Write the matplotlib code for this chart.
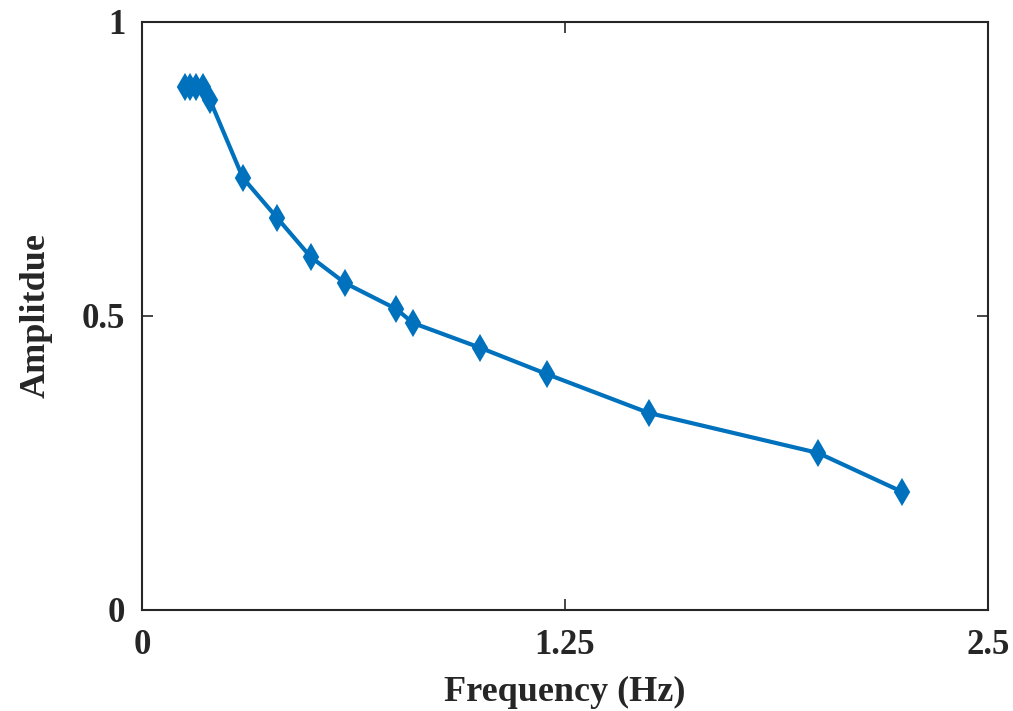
import matplotlib
matplotlib.use('Agg')
import matplotlib.pyplot as plt

# Values
frequency = [0.127, 0.142, 0.160, 0.180, 0.201, 0.298, 0.399, 0.499, 0.600,
             0.751, 0.801, 0.999, 1.197, 1.498, 1.998, 2.246]
amplitude = [0.889, 0.889, 0.889, 0.889, 0.867, 0.735, 0.667, 0.600, 0.556,
             0.512, 0.488, 0.446, 0.401, 0.335, 0.267, 0.201]
x_ticks = [0, 1.25, 2.5]
x_tick_labels = ['0', '1.25', '2.5']
y_ticks = [0, 0.5, 1]
y_tick_labels = ['0', '0.5', '1']

plt.rcParams['font.family'] = ['Liberation Serif', 'DejaVu Serif']
plt.rcParams['font.weight'] = 'bold'

fig = plt.figure(figsize=(10.13, 7.11), dpi=100)
ax = fig.add_axes([0.1402, 0.1421, 0.8351, 0.8270])

ax.plot(frequency, amplitude, color='#0072BD', linewidth=3,
        marker='d', markersize=12, markeredgewidth=1.5,
        markerfacecolor='#0072BD', markeredgecolor='#0072BD')

ax.set_xlim(0, 2.5)
ax.set_ylim(0, 1)
ax.set_xticks(x_ticks)
ax.set_xticklabels(x_tick_labels)
ax.set_yticks(y_ticks)
ax.set_yticklabels(y_tick_labels)

ax.tick_params(direction='in', length=8, width=1.2, colors='#262626',
               labelsize=25, top=True, right=True)
ax.tick_params(axis='x', pad=14)
ax.tick_params(axis='y', pad=12)
for lab in ax.get_xticklabels() + ax.get_yticklabels():
    lab.set_fontweight('bold')
for sp in ax.spines.values():
    sp.set_color('#262626')
    sp.set_linewidth(1.5)

ax.set_xlabel('Frequency (Hz)', fontsize=26, fontweight='bold',
              color='#262626', labelpad=10)
ax.set_ylabel('Amplitdue', fontsize=26, fontweight='bold',
              color='#262626', labelpad=21)

fig.savefig('out.png', dpi=100)
